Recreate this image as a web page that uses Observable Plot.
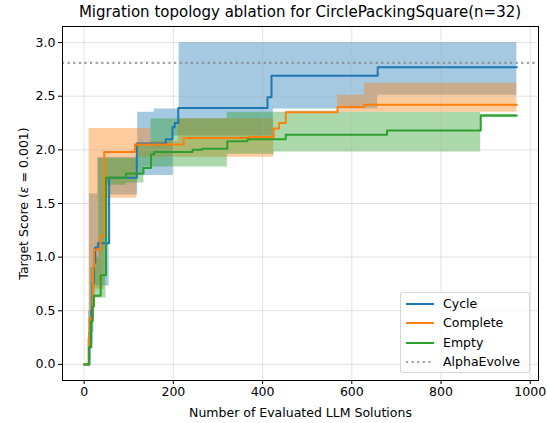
<!DOCTYPE html>
<html><head><meta charset="utf-8">
<script src="https://cdn.jsdelivr.net/npm/d3@7"></script>
<script src="https://cdn.jsdelivr.net/npm/@observablehq/plot@0.6"></script>
<style>
html,body{margin:0;padding:0;background:#fff;}
#wrap{position:relative;width:547px;height:423px;font-family:"DejaVu Sans",sans-serif;color:#000;}
#title{position:absolute;left:62px;width:476px;top:3px;text-align:center;font-size:15px;white-space:nowrap;}
#legend{position:absolute;left:400px;top:292px;width:130px;height:81px;border:1px solid rgba(204,204,204,0.8);border-radius:3px;background:rgba(255,255,255,0.8);box-sizing:border-box;font-size:12.5px;}
.item{position:absolute;left:0;height:18px;width:128px;}
.item svg{position:absolute;left:4px;top:0;}
.item span{position:absolute;left:42px;top:1px;line-height:16px;white-space:nowrap;}
</style></head>
<body>
<div id="wrap">
  <div id="chart"></div>
  <div id="title"></div>
  <div id="legend"></div>
</div>
<script>
// ---------- data ----------
const titleText = "Migration topology ablation for CirclePackingSquare(n=32)";
const xLabel = "Number of Evaluated LLM Solutions";
const yLabel = "Target Score (ε = 0.001)";
const seriesNames = ["Cycle", "Complete", "Empty"];
const seriesColors = ["#1f77b4", "#ff7f0e", "#2ca02c"];
const refName = "AlphaEvolve";
const refValue = 2.81;
const xTicks = [0, 200, 400, 600, 800, 1000];
const yTicks = [0, 0.5, 1.0, 1.5, 2.0, 2.5, 3.0];

// Cycle
const cycleX = [0, 12, 16, 19, 22, 25, 31, 56, 118, 183, 198, 203, 211, 411, 420, 658, 970];
const cycleY = [0, 0.16, 0.50, 0.76, 0.95, 1.09, 1.13, 1.74, 2.06, 2.10, 2.21, 2.25, 2.39, 2.49, 2.69, 2.77, 2.77];
const cycleBandX = [0, 10, 12, 13, 20, 25, 30, 56, 120, 157, 200, 213, 424, 658, 970];
const cycleLo = [0, 0.05, 0.05, 0.20, 0.55, 0.73, 0.73, 1.58, 1.76, 1.76, 2.13, 2.13, 2.38, 2.51, 2.51];
const cycleHi = [0, 0.50, 1.59, 1.59, 1.59, 1.59, 1.93, 1.93, 2.35, 2.38, 2.38, 3.00, 3.00, 3.00, 3.00];

// Complete
const completeX = [0, 10, 13, 20, 22, 37, 45, 114, 223, 368, 425, 437, 452, 568, 628, 970];
const completeY = [0, 0.24, 0.43, 0.91, 1.07, 1.20, 1.98, 2.05, 2.11, 2.12, 2.20, 2.25, 2.35, 2.40, 2.42, 2.42];
const completeBandX = [0, 10, 11, 15, 20, 45, 118, 150, 211, 425, 452, 568, 628, 970];
const completeLo = [0, 0.05, 0.15, 0.40, 0.70, 1.55, 1.93, 1.93, 1.93, 2.30, 2.35, 2.35, 2.35, 2.35];
const completeHi = [0, 0.50, 2.20, 2.20, 2.20, 2.20, 2.20, 2.08, 2.29, 2.30, 2.36, 2.51, 2.62, 2.62];

// Empty
const emptyX = [0, 11, 15, 19, 22, 37, 49, 94, 133, 150, 157, 243, 265, 321, 366, 452, 679, 889, 970];
const emptyY = [0, 0.16, 0.40, 0.54, 0.64, 0.83, 1.74, 1.78, 1.83, 1.96, 1.98, 2.00, 2.01, 2.08, 2.10, 2.14, 2.18, 2.32, 2.32];
const emptyBandX = [0, 10, 15, 22, 33, 49, 94, 118, 134, 150, 321, 426, 889, 970];
const emptyLo = [0, 0.05, 0.30, 0.62, 0.62, 1.67, 1.69, 1.69, 1.84, 1.84, 1.96, 1.98, 2.30, 2.30];
const emptyHi = [0, 0.30, 0.90, 1.00, 1.92, 1.92, 1.92, 2.05, 2.05, 2.29, 2.35, 2.35, 2.33, 2.33];

// ---------- build tables ----------
const lineTable = (xs, ys) => xs.map((x, i) => ({x, y: ys[i]}));
const bandTable = (xs, lo, hi) => xs.map((x, i) => ({x, lo: lo[i], hi: hi[i]}));
const lines = [lineTable(cycleX, cycleY), lineTable(completeX, completeY), lineTable(emptyX, emptyY)];
const bands = [bandTable(cycleBandX, cycleLo, cycleHi), bandTable(completeBandX, completeLo, completeHi), bandTable(emptyBandX, emptyLo, emptyHi)];

const marks = [];
bands.forEach((b, i) => marks.push(Plot.areaY(b, {x: "x", y1: "lo", y2: "hi", curve: "step-after", fill: seriesColors[i], fillOpacity: 0.4})));
marks.push(Plot.gridX(xTicks, {stroke: "#b0b0b0", strokeOpacity: 0.35, strokeWidth: 1}));
marks.push(Plot.gridY(yTicks, {stroke: "#b0b0b0", strokeOpacity: 0.35, strokeWidth: 1}));
lines.forEach((l, i) => marks.push(Plot.line(l, {x: "x", y: "y", curve: "step-after", stroke: seriesColors[i], strokeWidth: 2})));
marks.push(Plot.ruleY([refValue], {stroke: "#808080", strokeOpacity: 0.75, strokeWidth: 2.2, strokeDasharray: "2.2,3.4"}));
marks.push(Plot.axisX(xTicks, {tickSize: 4, tickPadding: 3, tickFormat: d3.format("d"), label: xLabel, labelAnchor: "center", labelArrow: "none", labelOffset: 36}));
marks.push(Plot.axisY(yTicks, {tickSize: 4, tickPadding: 3, tickFormat: d3.format(".1f"), label: yLabel, labelAnchor: "center", labelArrow: "none", labelOffset: 43}));
marks.push(Plot.frame({stroke: "#000", strokeWidth: 1}));

const chart = Plot.plot({
  width: 547, height: 423,
  marginLeft: 62, marginRight: 9, marginTop: 26, marginBottom: 43,
  x: {domain: [-48.5, 1018.5]},
  y: {domain: [-0.15, 3.15]},
  style: {fontFamily: "DejaVu Sans, sans-serif", fontSize: "12.5px", background: "#fff", color: "#000"},
  marks
});
document.getElementById("chart").appendChild(chart);

// italic epsilon in y label (strip any arrow the library may add)
d3.select(chart).selectAll("text").each(function() {
  const s = this.textContent;
  if (s.indexOf("Target Score") >= 0) {
    const t = d3.select(this);
    const parts = yLabel.split("ε");
    t.text(null);
    t.append("tspan").text(parts[0]);
    t.append("tspan").attr("font-style", "italic").text("ε");
    t.append("tspan").text(parts[1]);
  } else if (s.indexOf(xLabel) >= 0 && s !== xLabel) {
    this.textContent = xLabel;
  }
});

document.getElementById("title").textContent = titleText;

// legend
const legend = document.getElementById("legend");
const entries = seriesNames.map((n, i) => ({name: n, color: seriesColors[i], dash: null, op: 1}));
entries.push({name: refName, color: "#808080", dash: "2.2,3.4", op: 0.75});
entries.forEach((e, i) => {
  const d = document.createElement("div");
  d.className = "item";
  d.style.top = (2 + i * 19.4) + "px";
  d.innerHTML = `<svg width="32" height="18"><line x1="1" x2="29" y1="9" y2="9" stroke="${e.color}" stroke-opacity="${e.op}" stroke-width="2" ${e.dash ? `stroke-dasharray="${e.dash}"` : ""}/></svg><span>${e.name}</span>`;
  legend.appendChild(d);
});
</script>
</body></html>
